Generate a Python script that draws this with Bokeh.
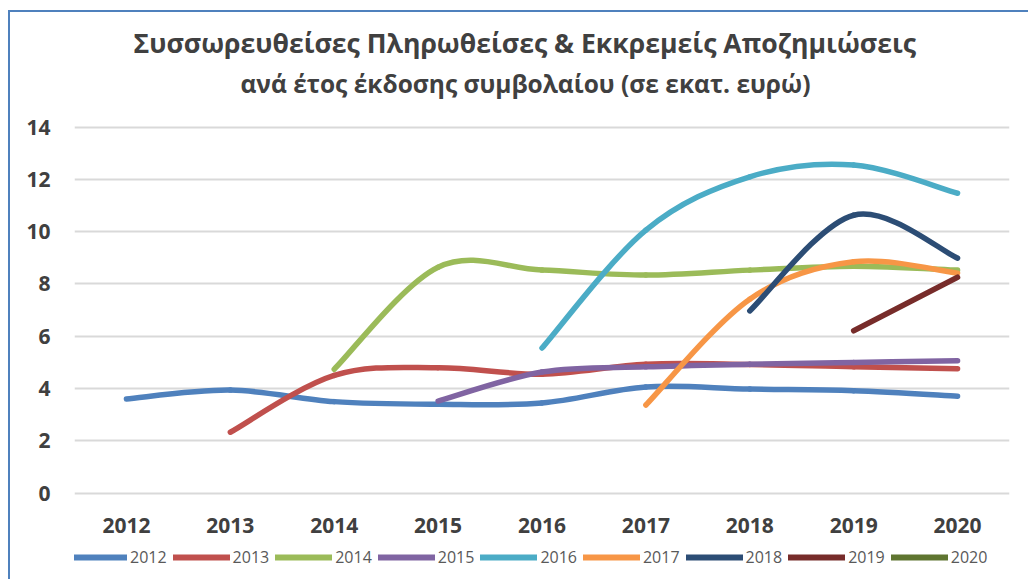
from bokeh.plotting import figure
from bokeh.models import Title, Legend, LegendItem, FixedTicker, ColumnDataSource
from bokeh.embed import file_html
from bokeh.resources import INLINE

years = ["2012", "2013", "2014", "2015", "2016", "2017", "2018", "2019", "2020"]
s2012 = [3.6, 3.94, 3.5, 3.4, 3.45, 4.06, 3.98, 3.92, 3.71]
s2013 = [None, 2.33, 4.5, 4.8, 4.55, 4.93, 4.92, 4.83, 4.76]
s2014 = [None, None, 4.74, 8.64, 8.53, 8.34, 8.53, 8.68, 8.53]
s2015 = [None, None, None, 3.52, 4.63, 4.83, 4.93, 5.0, 5.06]
s2016 = [None, None, None, None, 5.55, 10.06, 12.1, 12.55, 11.47]
s2017 = [None, None, None, None, None, 3.37, 7.42, 8.85, 8.41]
s2018 = [None, None, None, None, None, None, 6.97, 10.63, 8.99]
s2019 = [None, None, None, None, None, None, None, 6.21, 8.26]
s2020 = [None, None, None, None, None, None, None, None, None]
y_ticks = [0, 2, 4, 6, 8, 10, 12, 14]

names = years
colors = ["#4F81BD", "#C0504D", "#9BBB59", "#8064A2", "#4BACC6",
          "#F79646", "#2C4D75", "#772C2A", "#5F7530"]
data = [s2012, s2013, s2014, s2015, s2016, s2017, s2018, s2019, s2020]

FONT = "Open Sans"
DARK = "#404040"
NAN = float("nan")

p = figure(width=1020, height=569, x_range=(-0.5, 8.5), y_range=(-3.38, 14.1),
           output_backend="svg", toolbar_location=None, title=None,
           min_border_left=64, min_border_right=21, min_border_top=112,
           min_border_bottom=0, background_fill_color="white",
           border_fill_color="white", outline_line_color=None,
           styles={"border-left": "2px solid #4F81BD", "border-top": "2px solid #4F81BD",
                   "margin-left": "8px", "margin-top": "10px"})

t2 = Title(text="ανά έτος έκδοσης συμβολαίου (σε εκατ. ευρώ)", align="left",
           text_font_size="24.5px", text_font=FONT, text_font_style="bold",
           text_color=DARK, standoff=50, offset=166)
t1 = Title(text="Συσσωρευθείσες Πληρωθείσες & Εκκρεμείς  Αποζημιώσεις", align="left",
           text_font_size="26.6px", text_font=FONT, text_font_style="bold",
           text_color=DARK, standoff=-42, offset=59)
p.add_layout(t2, "above")
p.add_layout(t1, "above")

# y axis
p.yaxis.ticker = FixedTicker(ticks=y_ticks)
ya = p.yaxis[0]
ya.axis_line_color = None
ya.major_tick_line_color = None
ya.minor_tick_line_color = None
ya.major_tick_out = 0
ya.major_tick_in = 0
ya.major_label_text_font = FONT
ya.major_label_text_font_style = "bold"
ya.major_label_text_font_size = "21px"
ya.major_label_text_color = DARK
ya.major_label_standoff = 24

# x axis drawn as category labels inside the frame
p.xaxis.visible = False
label_src = ColumnDataSource(dict(x=list(range(len(years))), y=[-1.225] * len(years), t=years))
p.text(x="x", y="y", text="t", source=label_src, text_align="center",
       text_baseline="middle", text_font_size="21px", text_font_style="bold",
       text_color=DARK, text_font={"value": FONT})

p.xgrid.grid_line_color = None
p.ygrid.grid_line_color = "#D9D9D9"
p.ygrid.grid_line_width = 2
p.ygrid.ticker = FixedTicker(ticks=y_ticks)

items = []
for name, vals, col in zip(names, data, colors):
    pts = [(i, v) for i, v in enumerate(vals) if v is not None]
    n = len(pts)
    if n >= 2:
        x0, y0, x1, y1, cx0, cy0, cx1, cy1 = [], [], [], [], [], [], [], []
        for k in range(n - 1):
            pm = pts[max(k - 1, 0)]
            pa = pts[k]
            pb = pts[k + 1]
            pn = pts[min(k + 2, n - 1)]
            x0.append(pa[0]); y0.append(pa[1])
            x1.append(pb[0]); y1.append(pb[1])
            cx0.append(pa[0] + (pb[0] - pm[0]) / 6.0)
            cy0.append(pa[1] + (pb[1] - pm[1]) / 6.0)
            cx1.append(pb[0] - (pn[0] - pa[0]) / 6.0)
            cy1.append(pb[1] - (pn[1] - pa[1]) / 6.0)
        p.bezier(x0=x0, y0=y0, x1=x1, y1=y1, cx0=cx0, cy0=cy0, cx1=cx1, cy1=cy1,
                 line_color=col, line_width=5.5, line_cap="round")
    # legend proxy (not drawn in the plot area)
    proxy = p.line(x=[NAN], y=[NAN], line_color=col, line_width=6, line_cap="round")
    items.append(LegendItem(label=name, renderers=[proxy]))

legend = Legend(items=items, orientation="horizontal", location=(-4, 13),
                glyph_width=57, glyph_height=20, label_standoff=3, spacing=6,
                padding=0, margin=0, label_text_font=FONT, label_text_font_size="16px",
                label_text_color="#595959", border_line_color=None,
                background_fill_alpha=0)
p.add_layout(legend)

open("out.html", "w").write(file_html(p, INLINE))
